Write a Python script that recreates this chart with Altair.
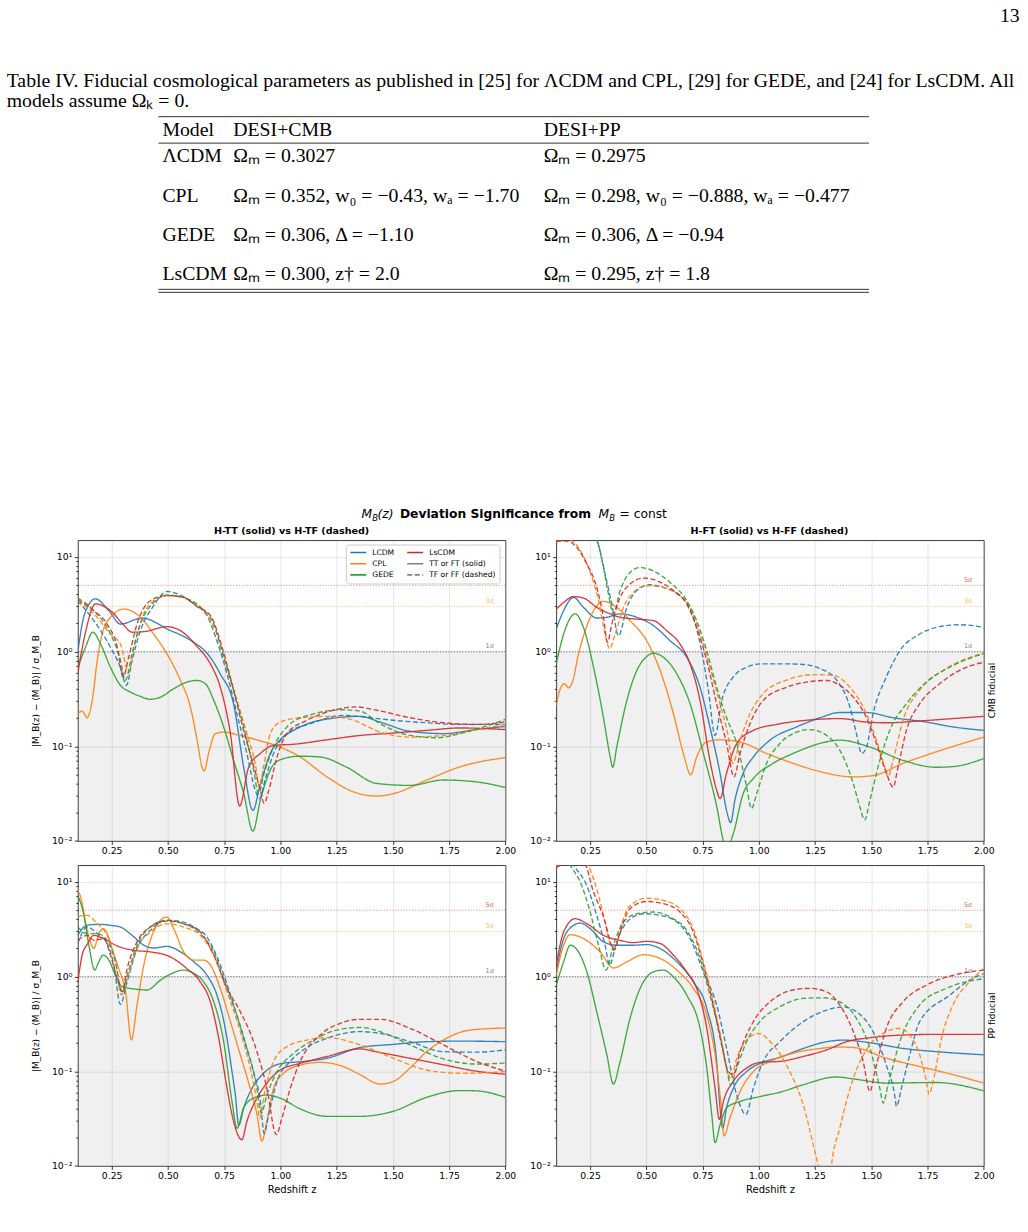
import altair as alt
import pandas as pd

# ------------------------------------------------------------------ page text
PAGE_NUMBER = "13"
TABLE_CAPTION = [
    "Table IV. Fiducial cosmological parameters as published in [25] for ΛCDM and CPL, [29] for GEDE, and [24] for LsCDM. All",
    "models assume Ωₖ = 0.",
]
TABLE_HEADER = ["Model", "DESI+CMB", "DESI+PP"]
TABLE_MODELS = ["ΛCDM", "CPL", "GEDE", "LsCDM"]
TABLE_DESI_CMB = [
    "Ωₘ = 0.3027",
    "Ωₘ = 0.352, w₀ = −0.43, wₐ = −1.70",
    "Ωₘ = 0.306, Δ = −1.10",
    "Ωₘ = 0.300, z† = 2.0",
]
TABLE_DESI_PP = [
    "Ωₘ = 0.2975",
    "Ωₘ = 0.298, w₀ = −0.888, wₐ = −0.477",
    "Ωₘ = 0.306, Δ = −0.94",
    "Ωₘ = 0.295, z† = 1.8",
]

# ------------------------------------------------------------------ figure text
SUPTITLE_PARTS = ["M", "B", "(z)", "Deviation Significance from", "M", "B", "= const"]
PANEL_TITLES = ["H-TT (solid) vs H-TF (dashed)", "H-FT (solid) vs H-FF (dashed)"]
ROW_LABELS = ["CMB fiducial", "PP fiducial"]
X_TITLE = "Redshift z"
Y_TITLE = "|M_B(z) − ⟨M_B⟩| / σ_M_B"

MODELS = ["LCDM", "CPL", "GEDE", "LsCDM"]
STYLES = ["solid", "dashed"]
LEGEND_KEYS = ["LCDM", "CPL", "GEDE", "LsCDM", "TT or FT (solid)", "TF or FF (dashed)"]
SIGMA_LEVELS = [5, 3, 1]
SIGMA_TEXT = ["5σ", "3σ", "1σ"]
SIGMA_LABEL_Z = 1.93
BAND = [0.01, 1.0]          # shaded "below 1σ" region
X_DOMAIN = [0.1, 2.0]
Y_DOMAIN = [0.01, 15.0]
X_TICKS = [0.25, 0.5, 0.75, 1.0, 1.25, 1.5, 1.75, 2.0]
Y_TICKS = [m * 10.0 ** e for e in (-2, -1, 0) for m in range(1, 10)] + [10.0]

# ------------------------------------------------------------------ curves (z, significance)
# CMB fiducial, H-TT (solid)
CMB_TT_LCDM = [(0.100, 1.0), (0.130, 2.5), (0.178, 3.6), (0.238, 2.7), (0.289, 1.95), (0.386, 2.26), (0.450, 2.0), (0.496, 1.73), (0.556, 1.5), (0.615, 1.25), (0.674, 0.96), (0.733, 0.58), (0.792, 0.28), (0.837, 0.06), (0.878, 0.021), (0.911, 0.040), (0.955, 0.084), (0.999, 0.117), (1.059, 0.147), (1.177, 0.188), (1.354, 0.207), (1.443, 0.18), (1.576, 0.144), (1.724, 0.136), (1.872, 0.15), (2.0, 0.162)]
CMB_TT_CPL = [(0.100, 0.22), (0.119, 0.235), (0.141, 0.20), (0.164, 0.305), (0.186, 0.8), (0.208, 1.53), (0.245, 2.3), (0.304, 2.81), (0.378, 2.3), (0.437, 1.53), (0.496, 0.945), (0.556, 0.495), (0.600, 0.26), (0.630, 0.116), (0.652, 0.06), (0.662, 0.055), (0.681, 0.084), (0.711, 0.136), (0.748, 0.141), (0.822, 0.13), (0.911, 0.114), (0.999, 0.098), (1.088, 0.077), (1.207, 0.0475), (1.325, 0.033), (1.428, 0.0298), (1.502, 0.0316), (1.650, 0.0439), (1.798, 0.0606), (2.0, 0.076)]
CMB_TT_GEDE = [(0.100, 0.68), (0.134, 1.11), (0.167, 1.6), (0.201, 1.2), (0.245, 0.68), (0.289, 0.44), (0.334, 0.373), (0.378, 0.336), (0.422, 0.313), (0.467, 0.33), (0.526, 0.405), (0.585, 0.476), (0.630, 0.495), (0.667, 0.457), (0.704, 0.305), (0.748, 0.16), (0.792, 0.071), (0.837, 0.0318), (0.878, 0.0127), (0.911, 0.027), (0.955, 0.056), (0.999, 0.072), (1.088, 0.0785), (1.177, 0.077), (1.295, 0.06), (1.428, 0.0405), (1.576, 0.0386), (1.724, 0.044), (1.872, 0.042), (2.0, 0.0367)]
CMB_TT_LSCDM = [(0.100, 0.6), (0.134, 1.6), (0.178, 3.18), (0.245, 2.7), (0.304, 1.9), (0.341, 1.6), (0.393, 1.62), (0.496, 1.83), (0.556, 1.66), (0.630, 1.13), (0.689, 0.74), (0.733, 0.42), (0.778, 0.136), (0.819, 0.0234), (0.859, 0.06), (0.911, 0.084), (0.970, 0.102), (1.059, 0.105), (1.207, 0.117), (1.354, 0.13), (1.502, 0.138), (1.650, 0.147), (1.798, 0.156), (2.0, 0.15)]
# CMB fiducial, H-TF (dashed)
CMB_TF_LCDM = [(0.100, 3.44), (0.171, 2.12), (0.245, 1.11), (0.289, 0.68), (0.316, 0.44), (0.341, 0.8), (0.378, 1.66), (0.437, 3.05), (0.496, 4.3), (0.556, 3.95), (0.615, 3.17), (0.674, 2.39), (0.718, 1.3), (0.763, 0.58), (0.807, 0.22), (0.851, 0.084), (0.888, 0.0344), (0.908, 0.028), (0.932, 0.044), (0.970, 0.084), (1.029, 0.136), (1.133, 0.173), (1.280, 0.212), (1.399, 0.2), (1.502, 0.188), (1.650, 0.177), (1.798, 0.17), (2.0, 0.17)]
CMB_TF_CPL = [(0.100, 3.44), (0.171, 2.5), (0.245, 1.53), (0.289, 1.2), (0.326, 0.6), (0.349, 1.11), (0.393, 2.5), (0.452, 3.6), (0.511, 3.9), (0.585, 3.6), (0.659, 2.7), (0.718, 1.53), (0.763, 0.68), (0.807, 0.305), (0.851, 0.136), (0.888, 0.0657), (0.906, 0.038), (0.925, 0.06), (0.955, 0.136), (0.999, 0.18), (1.088, 0.2), (1.207, 0.207), (1.325, 0.188), (1.443, 0.141), (1.576, 0.125), (1.724, 0.13), (1.872, 0.15), (2.0, 0.17)]
CMB_TF_GEDE = [(0.100, 3.67), (0.171, 2.7), (0.245, 1.53), (0.286, 0.87), (0.312, 0.5), (0.341, 0.95), (0.378, 1.95), (0.437, 3.3), (0.496, 3.95), (0.570, 3.73), (0.644, 2.93), (0.704, 1.95), (0.748, 0.87), (0.792, 0.39), (0.837, 0.16), (0.881, 0.056), (0.903, 0.0316), (0.928, 0.052), (0.970, 0.098), (1.029, 0.16), (1.133, 0.215), (1.280, 0.243), (1.354, 0.235), (1.443, 0.173), (1.576, 0.13), (1.695, 0.123), (1.798, 0.136), (2.0, 0.192)]
CMB_TF_LSCDM = [(0.100, 3.5), (0.171, 2.7), (0.230, 1.95), (0.275, 1.11), (0.301, 0.54), (0.326, 0.87), (0.363, 1.95), (0.422, 3.44), (0.496, 3.9), (0.570, 3.73), (0.630, 2.98), (0.689, 2.4), (0.741, 1.11), (0.785, 0.457), (0.829, 0.173), (0.874, 0.071), (0.911, 0.0344), (0.928, 0.0249), (0.948, 0.034), (0.985, 0.077), (1.029, 0.136), (1.118, 0.188), (1.207, 0.23), (1.340, 0.26), (1.428, 0.24), (1.576, 0.2), (1.724, 0.177), (1.872, 0.17), (2.0, 0.18)]
# CMB fiducial, H-FT (solid)
CMB_FT_LCDM = [(0.100, 1.73), (0.133, 2.7), (0.177, 3.73), (0.221, 2.93), (0.280, 2.26), (0.325, 2.3), (0.384, 2.5), (0.458, 2.3), (0.532, 1.88), (0.606, 1.3), (0.680, 0.87), (0.739, 0.42), (0.783, 0.16), (0.828, 0.052), (0.860, 0.0195), (0.875, 0.0156), (0.894, 0.027), (0.931, 0.052), (0.976, 0.077), (1.050, 0.116), (1.168, 0.16), (1.272, 0.2), (1.360, 0.227), (1.479, 0.227), (1.597, 0.2), (1.745, 0.18), (1.863, 0.16), (2.0, 0.147)]
CMB_FT_CPL = [(0.100, 0.27), (0.118, 0.405), (0.137, 0.457), (0.155, 0.414), (0.174, 0.495), (0.199, 0.945), (0.229, 1.66), (0.266, 2.7), (0.310, 3.39), (0.369, 2.93), (0.428, 2.12), (0.502, 1.3), (0.562, 0.63), (0.621, 0.22), (0.665, 0.084), (0.698, 0.05), (0.724, 0.077), (0.769, 0.111), (0.828, 0.117), (0.917, 0.111), (1.035, 0.084), (1.153, 0.066), (1.272, 0.054), (1.420, 0.0475), (1.508, 0.049), (1.641, 0.066), (1.789, 0.0873), (2.0, 0.125)]
CMB_FT_GEDE = [(0.100, 0.74), (0.133, 1.53), (0.184, 2.5), (0.221, 1.8), (0.266, 0.68), (0.310, 0.2), (0.340, 0.077), (0.351, 0.06), (0.369, 0.098), (0.414, 0.305), (0.458, 0.63), (0.502, 0.886), (0.532, 0.96), (0.576, 0.87), (0.636, 0.58), (0.695, 0.28), (0.754, 0.084), (0.813, 0.0233), (0.846, 0.0095), (0.860, 0.0085), (0.887, 0.012), (0.931, 0.0317), (0.976, 0.0457), (1.064, 0.066), (1.168, 0.087), (1.272, 0.107), (1.360, 0.116), (1.494, 0.098), (1.641, 0.071), (1.789, 0.06), (1.863, 0.061), (2.0, 0.074)]
CMB_FT_LSCDM = [(0.100, 2.8), (0.133, 3.3), (0.177, 3.8), (0.221, 3.67), (0.280, 2.93), (0.340, 2.5), (0.384, 2.3), (0.458, 2.2), (0.532, 2.12), (0.591, 1.66), (0.650, 1.2), (0.695, 0.74), (0.739, 0.305), (0.783, 0.071), (0.813, 0.0344), (0.828, 0.028), (0.857, 0.052), (0.902, 0.107), (0.976, 0.147), (1.079, 0.17), (1.212, 0.188), (1.360, 0.196), (1.479, 0.18), (1.567, 0.177), (1.715, 0.185), (1.863, 0.196), (2.0, 0.207)]
# CMB fiducial, H-FF (dashed)
CMB_FF_LCDM = [(0.100, 40), (0.207, 22), (0.280, 15), (0.317, 6.6), (0.347, 3.17), (0.377, 1.47), (0.414, 2.93), (0.458, 4.4), (0.517, 5.07), (0.576, 4.75), (0.650, 3.9), (0.709, 2.3), (0.746, 1.02), (0.776, 0.39), (0.806, 0.13), (0.835, 0.3), (0.887, 0.54), (0.946, 0.68), (1.005, 0.74), (1.124, 0.74), (1.198, 0.73), (1.272, 0.66), (1.346, 0.5), (1.405, 0.26), (1.434, 0.136), (1.457, 0.084), (1.479, 0.098), (1.508, 0.22), (1.567, 0.54), (1.627, 1.02), (1.715, 1.53), (1.804, 1.83), (1.893, 1.92), (2.0, 1.8)]
CMB_FF_CPL = [(0.100, 14.2), (0.147, 15.5), (0.199, 12.5), (0.243, 7.7), (0.288, 3.44), (0.317, 1.53), (0.337, 1.07), (0.362, 1.53), (0.399, 2.93), (0.443, 4.2), (0.502, 4.95), (0.562, 4.83), (0.636, 4.05), (0.695, 2.93), (0.739, 1.53), (0.783, 0.68), (0.828, 0.28), (0.865, 0.125), (0.884, 0.066), (0.917, 0.116), (0.961, 0.22), (1.020, 0.36), (1.124, 0.5), (1.242, 0.57), (1.331, 0.56), (1.405, 0.42), (1.464, 0.26), (1.523, 0.116), (1.560, 0.06), (1.575, 0.0475), (1.597, 0.071), (1.641, 0.188), (1.715, 0.39), (1.819, 0.63), (1.922, 0.84), (2.0, 0.945)]
CMB_FF_GEDE = [(0.100, 45), (0.207, 22), (0.280, 15), (0.310, 7.7), (0.332, 4.05), (0.354, 2.5), (0.384, 4.4), (0.428, 6.85), (0.473, 7.7), (0.532, 7.1), (0.606, 5.36), (0.680, 3.44), (0.724, 2.12), (0.769, 1.02), (0.813, 0.42), (0.857, 0.2), (0.902, 0.107), (0.946, 0.0372), (0.968, 0.022), (0.991, 0.0317), (1.035, 0.066), (1.094, 0.107), (1.168, 0.141), (1.227, 0.15), (1.302, 0.13), (1.360, 0.091), (1.420, 0.0405), (1.449, 0.023), (1.471, 0.0167), (1.494, 0.027), (1.538, 0.071), (1.582, 0.147), (1.656, 0.28), (1.745, 0.476), (1.863, 0.71), (2.0, 0.96)]
CMB_FF_LSCDM = [(0.100, 14.7), (0.147, 14.7), (0.192, 12.5), (0.236, 8.4), (0.280, 4.75), (0.310, 2.3), (0.328, 1.25), (0.347, 1.95), (0.384, 3.73), (0.428, 5.15), (0.488, 5.97), (0.547, 5.6), (0.621, 4.4), (0.680, 3.17), (0.724, 1.8), (0.769, 0.8), (0.813, 0.28), (0.857, 0.107), (0.890, 0.0475), (0.917, 0.084), (0.961, 0.173), (1.020, 0.305), (1.124, 0.42), (1.212, 0.476), (1.302, 0.495), (1.360, 0.44), (1.420, 0.33), (1.479, 0.2), (1.523, 0.107), (1.567, 0.0522), (1.597, 0.037), (1.619, 0.06), (1.656, 0.147), (1.715, 0.28), (1.804, 0.457), (1.908, 0.66), (2.0, 0.77)]
# PP fiducial, H-TT (solid)
PP_TT_LCDM = [(0.100, 2.72), (0.127, 3.33), (0.156, 3.52), (0.201, 3.55), (0.245, 3.47), (0.289, 3.33), (0.341, 2.72), (0.393, 2.14), (0.437, 2.0), (0.496, 2.08), (0.556, 1.82), (0.615, 1.43), (0.674, 1.03), (0.718, 0.636), (0.755, 0.284), (0.785, 0.099), (0.800, 0.056), (0.815, 0.0268), (0.837, 0.041), (0.874, 0.066), (0.925, 0.095), (0.999, 0.12), (1.103, 0.127), (1.207, 0.137), (1.354, 0.178), (1.502, 0.192), (1.650, 0.205), (1.798, 0.208), (2.0, 0.205)]
PP_TT_CPL = [(0.100, 8.1), (0.115, 6.6), (0.134, 3.77), (0.156, 2.32), (0.171, 1.97), (0.193, 2.84), (0.212, 3.2), (0.230, 2.84), (0.252, 1.97), (0.282, 1.21), (0.312, 0.69), (0.338, 0.214), (0.363, 0.5), (0.393, 1.32), (0.430, 2.72), (0.467, 3.92), (0.496, 4.24), (0.526, 3.2), (0.570, 1.82), (0.615, 1.49), (0.659, 1.49), (0.689, 1.32), (0.733, 0.75), (0.778, 0.334), (0.822, 0.149), (0.866, 0.066), (0.896, 0.035), (0.918, 0.0183), (0.940, 0.0295), (0.970, 0.066), (1.014, 0.095), (1.088, 0.116), (1.177, 0.124), (1.280, 0.112), (1.354, 0.092), (1.443, 0.0732), (1.502, 0.078), (1.576, 0.108), (1.650, 0.161), (1.724, 0.213), (1.843, 0.272), (2.0, 0.286)]
PP_TT_GEDE = [(0.100, 7.2), (0.127, 4.42), (0.149, 2.14), (0.175, 1.17), (0.193, 1.43), (0.212, 1.68), (0.238, 1.49), (0.267, 1.03), (0.297, 0.78), (0.349, 0.74), (0.408, 0.72), (0.467, 0.915), (0.526, 1.1), (0.570, 1.17), (0.615, 1.08), (0.659, 0.88), (0.704, 0.54), (0.748, 0.205), (0.785, 0.048), (0.807, 0.025), (0.837, 0.041), (0.881, 0.052), (0.940, 0.056), (0.999, 0.052), (1.088, 0.04), (1.207, 0.0334), (1.354, 0.0334), (1.502, 0.0378), (1.650, 0.053), (1.798, 0.0625), (1.872, 0.062), (2.0, 0.053)]
PP_TT_LSCDM = [(0.100, 0.88), (0.119, 1.68), (0.141, 2.17), (0.171, 2.72), (0.215, 2.51), (0.275, 2.1), (0.349, 1.89), (0.422, 1.82), (0.511, 1.61), (0.585, 1.21), (0.644, 0.88), (0.689, 0.54), (0.726, 0.223), (0.763, 0.066), (0.792, 0.0295), (0.829, 0.0189), (0.851, 0.0295), (0.888, 0.048), (0.940, 0.075), (0.999, 0.103), (1.088, 0.121), (1.207, 0.143), (1.354, 0.172), (1.428, 0.16), (1.576, 0.137), (1.724, 0.117), (1.872, 0.1), (2.0, 0.093)]
# PP fiducial, H-TF (dashed)
PP_TF_LCDM = [(0.100, 2.23), (0.141, 3.33), (0.186, 2.84), (0.230, 2.23), (0.260, 1.32), (0.289, 0.507), (0.319, 0.88), (0.363, 1.97), (0.422, 3.07), (0.496, 3.92), (0.556, 3.82), (0.615, 3.33), (0.674, 2.6), (0.733, 1.32), (0.792, 0.5), (0.837, 0.223), (0.881, 0.099), (0.911, 0.048), (0.928, 0.022), (0.948, 0.035), (0.985, 0.078), (1.044, 0.127), (1.118, 0.178), (1.207, 0.223), (1.354, 0.262), (1.443, 0.251), (1.576, 0.205), (1.724, 0.161), (1.872, 0.159), (2.0, 0.168)]
PP_TF_CPL = [(0.100, 4.35), (0.141, 4.42), (0.186, 3.62), (0.230, 2.72), (0.267, 1.43), (0.294, 0.636), (0.319, 0.95), (0.363, 1.97), (0.422, 2.95), (0.496, 3.6), (0.570, 3.33), (0.644, 2.72), (0.704, 1.68), (0.763, 0.69), (0.822, 0.262), (0.866, 0.108), (0.896, 0.048), (0.908, 0.032), (0.928, 0.056), (0.970, 0.127), (1.029, 0.182), (1.118, 0.213), (1.207, 0.226), (1.354, 0.19), (1.502, 0.137), (1.650, 0.103), (1.798, 0.095), (2.0, 0.099)]
PP_TF_GEDE = [(0.100, 3.33), (0.141, 2.84), (0.186, 2.84), (0.230, 2.41), (0.267, 1.43), (0.297, 0.68), (0.319, 1.03), (0.363, 2.14), (0.422, 3.33), (0.496, 3.92), (0.570, 3.6), (0.644, 2.84), (0.704, 1.82), (0.763, 0.75), (0.807, 0.39), (0.851, 0.175), (0.896, 0.066), (0.915, 0.036), (0.940, 0.056), (0.985, 0.099), (1.059, 0.155), (1.147, 0.213), (1.251, 0.272), (1.354, 0.29), (1.443, 0.262), (1.576, 0.19), (1.724, 0.135), (1.872, 0.119), (2.0, 0.122)]
PP_TF_LSCDM = [(0.100, 2.41), (0.141, 2.72), (0.171, 2.41), (0.215, 2.51), (0.245, 1.68), (0.275, 0.95), (0.297, 0.69), (0.319, 1.21), (0.363, 2.32), (0.422, 3.33), (0.496, 3.85), (0.570, 3.6), (0.644, 2.95), (0.704, 1.68), (0.763, 0.75), (0.822, 0.425), (0.881, 0.205), (0.940, 0.066), (0.982, 0.0214), (1.007, 0.032), (1.044, 0.066), (1.088, 0.127), (1.177, 0.241), (1.266, 0.32), (1.354, 0.353), (1.443, 0.353), (1.576, 0.284), (1.724, 0.19), (1.872, 0.127), (2.0, 0.1)]
# PP fiducial, H-FT (solid)
PP_FT_LCDM = [(0.100, 1.12), (0.133, 2.51), (0.177, 3.47), (0.207, 3.67), (0.251, 3.2), (0.310, 2.32), (0.369, 2.14), (0.443, 2.14), (0.502, 2.17), (0.562, 1.97), (0.636, 1.43), (0.709, 0.88), (0.769, 0.46), (0.813, 0.127), (0.828, 0.041), (0.840, 0.025), (0.857, 0.041), (0.887, 0.066), (0.946, 0.099), (1.005, 0.121), (1.094, 0.14), (1.198, 0.174), (1.302, 0.205), (1.375, 0.213), (1.494, 0.2), (1.641, 0.174), (1.789, 0.161), (2.0, 0.149)]
PP_FT_CPL = [(0.100, 1.03), (0.133, 2.14), (0.162, 2.77), (0.221, 2.51), (0.295, 1.82), (0.354, 1.23), (0.414, 1.43), (0.488, 1.7), (0.562, 1.55), (0.636, 1.17), (0.709, 0.75), (0.769, 0.39), (0.806, 0.149), (0.828, 0.056), (0.846, 0.0208), (0.872, 0.032), (0.917, 0.061), (0.976, 0.099), (1.050, 0.127), (1.153, 0.155), (1.272, 0.174), (1.346, 0.18), (1.420, 0.178), (1.567, 0.137), (1.715, 0.112), (1.863, 0.092), (2.0, 0.075)]
PP_FT_GEDE = [(0.100, 0.81), (0.133, 1.43), (0.162, 2.14), (0.199, 1.82), (0.236, 1.12), (0.280, 0.425), (0.325, 0.149), (0.354, 0.0732), (0.384, 0.127), (0.428, 0.361), (0.473, 0.75), (0.532, 1.12), (0.576, 1.17), (0.621, 0.99), (0.680, 0.636), (0.739, 0.284), (0.769, 0.108), (0.791, 0.035), (0.806, 0.0176), (0.828, 0.0272), (0.857, 0.041), (0.917, 0.048), (1.005, 0.054), (1.094, 0.06), (1.198, 0.072), (1.346, 0.087), (1.420, 0.083), (1.567, 0.075), (1.789, 0.076), (2.0, 0.062)]
PP_FT_LSCDM = [(0.100, 1.32), (0.133, 2.95), (0.184, 4.08), (0.236, 3.62), (0.310, 2.72), (0.384, 2.41), (0.443, 2.28), (0.502, 2.35), (0.562, 2.23), (0.621, 1.68), (0.680, 1.12), (0.724, 0.75), (0.769, 0.284), (0.806, 0.066), (0.825, 0.031), (0.843, 0.048), (0.887, 0.078), (0.946, 0.108), (1.005, 0.124), (1.094, 0.127), (1.198, 0.143), (1.302, 0.168), (1.390, 0.205), (1.494, 0.226), (1.641, 0.241), (1.789, 0.245), (2.0, 0.245)]
# PP fiducial, H-FF (dashed)
PP_FF_LCDM = [(0.100, 30), (0.177, 15), (0.236, 9.1), (0.280, 4.42), (0.317, 2.14), (0.337, 1.32), (0.369, 2.32), (0.414, 3.77), (0.488, 4.6), (0.562, 4.42), (0.636, 3.77), (0.695, 2.51), (0.754, 1.12), (0.813, 0.5), (0.857, 0.175), (0.902, 0.056), (0.943, 0.035), (0.976, 0.066), (1.020, 0.127), (1.094, 0.205), (1.198, 0.334), (1.302, 0.442), (1.375, 0.476), (1.434, 0.425), (1.508, 0.262), (1.567, 0.116), (1.604, 0.056), (1.612, 0.0426), (1.634, 0.066), (1.671, 0.149), (1.715, 0.334), (1.849, 0.636), (1.937, 0.915), (2.0, 1.07)]
PP_FF_CPL = [(0.100, 14.5), (0.162, 17), (0.236, 15), (0.280, 8.4), (0.317, 3.77), (0.340, 2.2), (0.359, 1.97), (0.384, 3.2), (0.428, 5.6), (0.502, 6.7), (0.576, 6.35), (0.650, 5.2), (0.709, 3.2), (0.754, 1.43), (0.798, 0.54), (0.835, 0.205), (0.865, 0.092), (0.875, 0.083), (0.902, 0.137), (0.946, 0.213), (0.998, 0.25), (1.064, 0.19), (1.138, 0.099), (1.198, 0.044), (1.242, 0.0168), (1.264, 0.01), (1.287, 0.0045), (1.309, 0.0045), (1.323, 0.01), (1.360, 0.025), (1.420, 0.084), (1.494, 0.19), (1.567, 0.262), (1.627, 0.284), (1.671, 0.24), (1.715, 0.149), (1.745, 0.078), (1.757, 0.057), (1.775, 0.078), (1.812, 0.223), (1.863, 0.5), (1.937, 0.88), (2.0, 1.21)]
PP_FF_GEDE = [(0.100, 30), (0.162, 15), (0.207, 9.9), (0.251, 4.8), (0.288, 2.14), (0.322, 1.17), (0.354, 2.14), (0.399, 3.77), (0.458, 4.6), (0.532, 4.8), (0.606, 4.24), (0.680, 3.07), (0.739, 1.55), (0.783, 0.636), (0.828, 0.241), (0.857, 0.108), (0.875, 0.072), (0.902, 0.108), (0.946, 0.205), (1.005, 0.334), (1.094, 0.48), (1.198, 0.587), (1.287, 0.596), (1.360, 0.54), (1.434, 0.361), (1.494, 0.175), (1.538, 0.066), (1.553, 0.046), (1.575, 0.072), (1.627, 0.205), (1.715, 0.5), (1.834, 0.75), (2.0, 0.95)]
PP_FF_LSCDM = [(0.100, 14.2), (0.162, 16), (0.221, 16), (0.266, 7.8), (0.317, 3.77), (0.340, 2.32), (0.357, 1.89), (0.384, 2.95), (0.428, 5.2), (0.502, 6.2), (0.576, 5.87), (0.650, 4.8), (0.709, 2.95), (0.754, 1.32), (0.798, 0.5), (0.835, 0.19), (0.865, 0.099), (0.887, 0.092), (0.917, 0.161), (0.976, 0.334), (1.050, 0.54), (1.153, 0.72), (1.227, 0.75), (1.302, 0.69), (1.360, 0.5), (1.420, 0.262), (1.464, 0.127), (1.494, 0.061), (1.516, 0.099), (1.567, 0.284), (1.641, 0.54), (1.745, 0.81), (1.863, 1.03), (2.0, 1.17)]

# ------------------------------------------------------------------ styles and layout
MODEL_COLORS = ["#1f77b4", "#ff7f0e", "#2ca02c", "#d62728"]
STYLE_DASHES = [[1, 0], [5, 2.5]]
LEGEND_COLORS = ["#1f77b4", "#ff7f0e", "#2ca02c", "#d62728", "#7f7f7f", "#7f7f7f"]
LEGEND_DASHES = [[1, 0], [1, 0], [1, 0], [1, 0], [1, 0], [5, 2.5]]
SIGMA_COLORS = ["#d62728", "#ff9f1a", "#555555"]
SIGMA_LINE_OPACITY = [0.5, 0.55, 0.7]
SANS = "DejaVu Sans"
SERIF = "Liberation Serif"
SERIF_SIZE = 19.8

PAGE_W, PAGE_H = 1028, 1232
PANEL_W, PANEL_H = 428.4, 301.4
PANEL_LEFT, PANEL_TOP = 77.3, 539.3
COL_GAP, ROW_GAP = 50.3, 23.6

PAGE_X = alt.Scale(domain=[0, PAGE_W], range=[-PANEL_LEFT, PAGE_W - PANEL_LEFT], nice=False, zero=False)
PAGE_Y = alt.Scale(domain=[0, PAGE_H], range=[-PANEL_TOP, PAGE_H - PANEL_TOP], nice=False, zero=False)

MAJOR = "abs(log(datum.value) / LN10 - round(log(datum.value) / LN10)) < 1e-6"
EXP = "round(log(datum.value) / LN10)"
Y_LABELS = (f"!({MAJOR}) ? '' : {EXP} == 1 ? '10¹' : {EXP} == 0 ? '10⁰' : "
            f"{EXP} == -1 ? '10⁻¹' : '10⁻²'")


def curve_frame(curves):
    rows = []
    for (model, style), pts in curves.items():
        for z, v in pts:
            rows.append({"model": model, "style": style, "z": z, "v": v})
    return pd.DataFrame(rows)


def x_enc(field, title):
    axis = alt.Axis(values=X_TICKS, format=".2f", title=title, orient="bottom", tickSize=3.5,
                    labelPadding=2.5, titlePadding=3, titleFontSize=10, labelFlush=False,
                    labelOverlap=False, grid=True, gridColor="#b0b0b0", gridOpacity=0.3)
    return alt.X(field, scale=alt.Scale(domain=X_DOMAIN, nice=False, zero=False), axis=axis)


def y_enc(field, title):
    axis = alt.Axis(values=Y_TICKS, labelExpr=Y_LABELS, title=title, orient="left",
                    tickSize={"condition": {"test": MAJOR, "value": 3.5}, "value": 2.0},
                    gridOpacity={"condition": {"test": MAJOR, "value": 0.3}, "value": 0},
                    gridColor="#b0b0b0", grid=True, labelPadding=2.5, titlePadding=11,
                    titleFontSize=9, labelOverlap=False, labelFlush=False)
    return alt.Y(field, scale=alt.Scale(type="log", domain=Y_DOMAIN, nice=False), axis=axis)


def panel(curves, x_title, y_title, side_label, with_legend):
    one = pd.DataFrame({"n": [0]})
    layers = [
        alt.Chart(one).mark_rect(color="#808080", opacity=0.12).encode(
            x=alt.datum(X_DOMAIN[0]), x2=alt.datum(X_DOMAIN[1]),
            y=alt.datum(BAND[0]), y2=alt.datum(BAND[1]))
    ]
    for lvl, txt, col, op in zip(SIGMA_LEVELS, SIGMA_TEXT, SIGMA_COLORS, SIGMA_LINE_OPACITY):
        layers.append(alt.Chart(one).mark_rule(color=col, opacity=op, strokeWidth=1,
                                               strokeDash=[1.2, 1.6]).encode(y=alt.datum(lvl)))
        layers.append(alt.Chart(one).mark_text(color=col, opacity=0.75, fontSize=6.5, font=SANS,
                                               dy=-5.5).encode(
            x=alt.datum(SIGMA_LABEL_Z), y=alt.datum(lvl), text=alt.value(txt)))
    lines = alt.Chart(curve_frame(curves)).mark_line(
        clip=True, strokeWidth=1.35, opacity=0.9, interpolate="monotone").encode(
        x=x_enc("z:Q", x_title),
        y=y_enc("v:Q", y_title),
        color=alt.Color("model:N", scale=alt.Scale(domain=MODELS, range=MODEL_COLORS), legend=None),
        strokeDash=alt.StrokeDash("style:N", scale=alt.Scale(domain=STYLES, range=STYLE_DASHES),
                                  legend=None),
    )
    layers.append(lines)
    if side_label:
        layers.append(alt.Chart(one).mark_text(angle=270, dy=8.5, fontSize=9, font=SANS,
                                               color="black").encode(
            x=alt.datum(X_DOMAIN[1]), y=alt.datum((Y_DOMAIN[0] * Y_DOMAIN[1]) ** 0.5),
            text=alt.value(side_label)))
    if with_legend:
        legend = alt.Legend(title=None, orient="none", legendX=268.5, legendY=4.4, columns=2,
                            symbolType="stroke", symbolSize=256, symbolStrokeWidth=1.6,
                            clipHeight=9, labelFont=SANS, labelFontSize=7.6, labelColor="black",
                            labelOffset=5, rowPadding=2.2, columnPadding=12, padding=3.5,
                            fillColor="rgba(255,255,255,0.85)", strokeColor="#cccccc",
                            cornerRadius=2.5)
        keys = pd.DataFrame({"key": LEGEND_KEYS, "z": [None] * 6, "v": [None] * 6})
        layers.append(alt.Chart(keys).mark_line(strokeWidth=1.6).encode(
            x=x_enc("z:Q", x_title), y=y_enc("v:Q", y_title),
            color=alt.Color("key:N", scale=alt.Scale(domain=LEGEND_KEYS, range=LEGEND_COLORS),
                            legend=legend),
            strokeDash=alt.StrokeDash("key:N", scale=alt.Scale(domain=LEGEND_KEYS,
                                                               range=LEGEND_DASHES), legend=legend),
        ))
    return alt.layer(*layers).resolve_scale(color="independent", strokeDash="independent")


def page_text(df, **mark):
    return alt.Chart(df).mark_text(**mark).encode(
        x=alt.X("px:Q", scale=PAGE_X, axis=None),
        y=alt.Y("py:Q", scale=PAGE_Y, axis=None),
        text="text:N",
    )


def page_layer():
    frame = pd.DataFrame({"px": [0], "px2": [PAGE_W], "py": [0], "py2": [PAGE_H]})
    layers = [alt.Chart(frame).mark_rect(fill="transparent").encode(
        x=alt.X("px:Q", scale=PAGE_X, axis=None), x2="px2:Q",
        y=alt.Y("py:Q", scale=PAGE_Y, axis=None), y2="py2:Q")]

    layers.append(page_text(pd.DataFrame({"px": [1021], "py": [14.5], "text": [PAGE_NUMBER]}),
                            align="right", baseline="middle", font=SERIF, fontSize=SERIF_SIZE,
                            color="black"))
    layers.append(page_text(pd.DataFrame({"px": [6, 6], "py": [79, 99], "text": TABLE_CAPTION}),
                            align="left", baseline="middle", font=SERIF, fontSize=SERIF_SIZE,
                            color="black"))

    col_x = [162, 233, 544]
    cells = [{"px": x, "py": 128.5, "text": t} for x, t in zip(col_x, TABLE_HEADER)]
    for y, row in zip([154.5, 194.5, 234, 273], zip(TABLE_MODELS, TABLE_DESI_CMB, TABLE_DESI_PP)):
        cells += [{"px": x, "py": y, "text": t} for x, t in zip(col_x, row)]
    layers.append(page_text(pd.DataFrame(cells), align="left", baseline="middle", font=SERIF,
                            fontSize=SERIF_SIZE, color="black"))

    rules = pd.DataFrame({"px": [158] * 4, "px2": [870] * 4, "py": [115, 141.5, 288, 291]})
    layers.append(alt.Chart(rules).mark_rule(color="#333333", strokeWidth=1.0).encode(
        x=alt.X("px:Q", scale=PAGE_X, axis=None), x2="px2:Q",
        y=alt.Y("py:Q", scale=PAGE_Y, axis=None)))

    # figure suptitle, pieced together so the M_B subscripts sit lower
    sup_x = [361.5, 372.3, 377.5, 400, 599, 609.8, 620]
    sup_dy = [0, 3.8, 0, 0, 0, 3.8, 0]
    sup_size = [12.3, 8.5, 12.3, 12.3, 12.3, 8.5, 12.3]
    sup_style = ["italic", "italic", "italic", "normal", "italic", "italic", "normal"]
    sup_weight = ["normal", "normal", "normal", "bold", "normal", "normal", "normal"]
    for txt, x, dy, fs, st, wt in zip(SUPTITLE_PARTS, sup_x, sup_dy, sup_size, sup_style, sup_weight):
        layers.append(page_text(pd.DataFrame({"px": [x], "py": [513.5 + dy], "text": [txt]}),
                                align="left", baseline="middle", font=SANS, fontSize=fs,
                                fontStyle=st, fontWeight=wt, color="black"))

    centres = [PANEL_LEFT + PANEL_W / 2, PANEL_LEFT + PANEL_W * 1.5 + COL_GAP]
    layers.append(page_text(pd.DataFrame({"px": centres, "py": [530.5, 530.5], "text": PANEL_TITLES}),
                            align="center", baseline="middle", font=SANS, fontSize=9.6,
                            fontWeight="bold", color="black"))
    return alt.layer(*layers)


def as_panel(curves_solid, curves_dashed):
    out = {}
    for model, pts in zip(MODELS, curves_solid):
        out[(model, "solid")] = pts
    for model, pts in zip(MODELS, curves_dashed):
        out[(model, "dashed")] = pts
    return out


cmb_tt = as_panel([CMB_TT_LCDM, CMB_TT_CPL, CMB_TT_GEDE, CMB_TT_LSCDM],
                  [CMB_TF_LCDM, CMB_TF_CPL, CMB_TF_GEDE, CMB_TF_LSCDM])
cmb_ft = as_panel([CMB_FT_LCDM, CMB_FT_CPL, CMB_FT_GEDE, CMB_FT_LSCDM],
                  [CMB_FF_LCDM, CMB_FF_CPL, CMB_FF_GEDE, CMB_FF_LSCDM])
pp_tt = as_panel([PP_TT_LCDM, PP_TT_CPL, PP_TT_GEDE, PP_TT_LSCDM],
                 [PP_TF_LCDM, PP_TF_CPL, PP_TF_GEDE, PP_TF_LSCDM])
pp_ft = as_panel([PP_FT_LCDM, PP_FT_CPL, PP_FT_GEDE, PP_FT_LSCDM],
                 [PP_FF_LCDM, PP_FF_CPL, PP_FF_GEDE, PP_FF_LSCDM])

top_left = alt.layer(panel(cmb_tt, None, Y_TITLE, None, True), page_layer()).resolve_scale(
    x="independent", y="independent").properties(width=PANEL_W, height=PANEL_H)
top_right = panel(cmb_ft, None, None, ROW_LABELS[0], False).properties(width=PANEL_W, height=PANEL_H)
bottom_left = panel(pp_tt, X_TITLE, Y_TITLE, None, False).properties(width=PANEL_W, height=PANEL_H)
bottom_right = panel(pp_ft, X_TITLE, None, ROW_LABELS[1], False).properties(width=PANEL_W, height=PANEL_H)

chart = alt.concat(
    top_left, top_right, bottom_left, bottom_right,
    columns=2, spacing={"row": ROW_GAP, "column": COL_GAP}, bounds="flush",
).properties(padding=0, background="white").configure_view(
    stroke="#262626", strokeWidth=0.9
).configure_axis(
    labelFont=SANS, labelFontSize=9.3, labelColor="black", tickColor="black", tickWidth=0.8,
    titleFont=SANS, titleFontSize=9, titleFontWeight="normal", titleColor="black", domain=False,
)

chart.save("out.html", embed_options={"renderer": "svg", "actions": False})
